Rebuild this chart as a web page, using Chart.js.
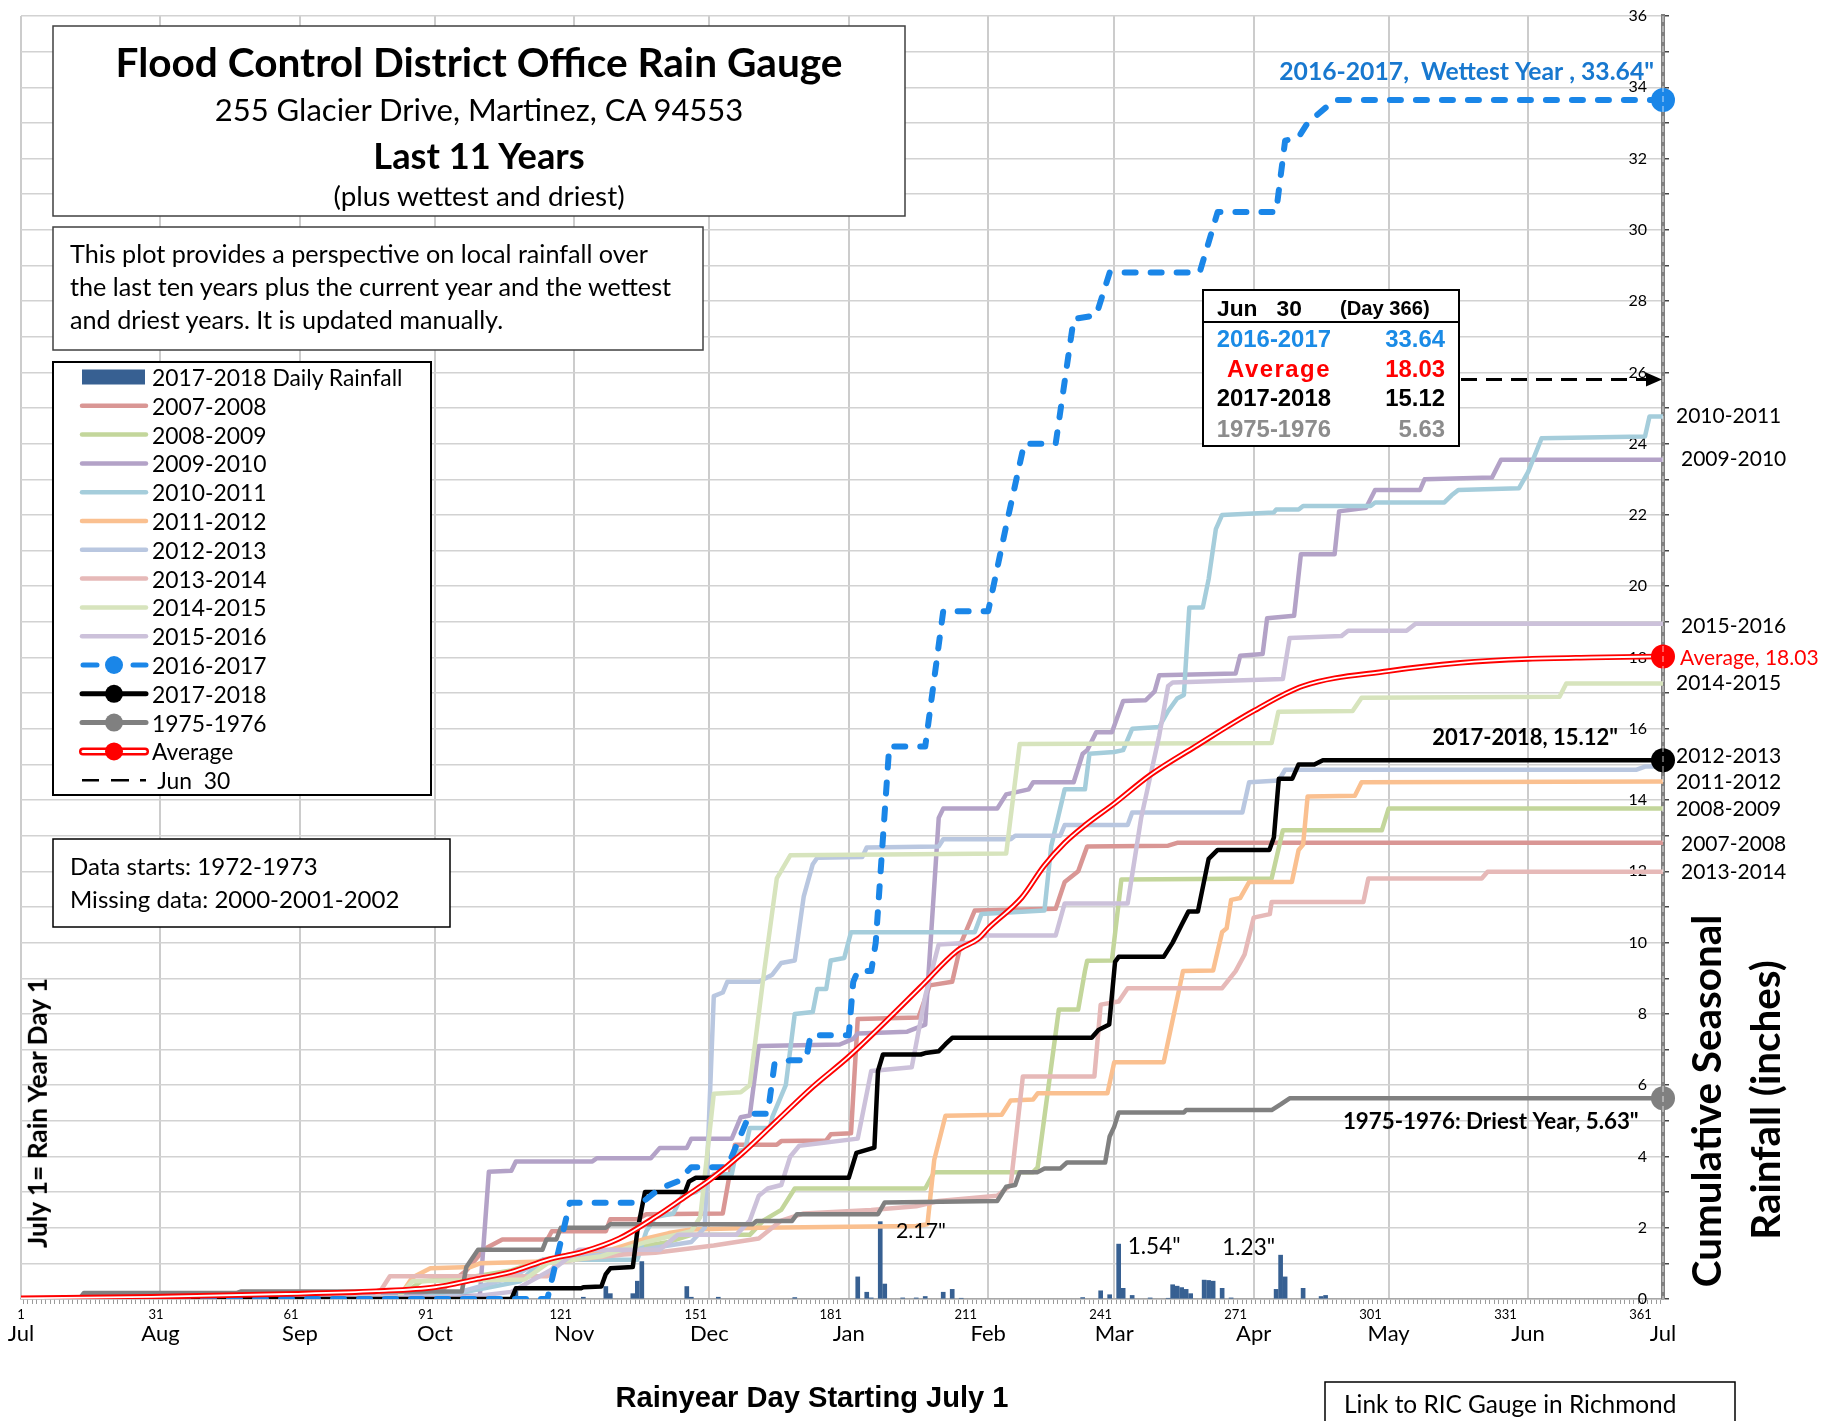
<!DOCTYPE html>
<html>
<head>
<meta charset="utf-8">
<title>Flood Control District Office Rain Gauge</title>
<script src="https://cdn.jsdelivr.net/npm/chart.js"></script>
<style>
  body { margin: 0; background: #fff; }
  #wrap { position: relative; width: 1838px; height: 1421px; overflow: hidden; font-family: Lato, sans-serif; color: #000; }
  #chart { position: absolute; left: 0; top: 0; }
  .t { position: absolute; white-space: nowrap; line-height: 1; font-size: 22px; transform: translate(0, -50%); }
  .c { transform: translate(-50%, -50%); }
  .r { transform: translate(-100%, -50%); }
  .rot { transform: translate(-50%, -50%) rotate(-90deg); }
  .b { font-weight: bold; }
  .a { font-family: 'Liberation Sans', Arial, sans-serif; font-weight: bold; }
  .n { font-family: 'Liberation Sans Narrow', 'Liberation Sans', Arial, sans-serif; }
</style>
</head>
<body>
<div id="wrap">
  <canvas id="chart" width="1838" height="1421"></canvas>

  <div class="t c b" style="left:479px;top:62px" data-w="727">Flood Control District Office Rain Gauge</div>
  <div class="t c" style="left:479px;top:110px" data-w="529">255 Glacier Drive, Martinez, CA 94553</div>
  <div class="t c b" style="left:479px;top:155px" data-w="211">Last 11 Years</div>
  <div class="t c" style="left:479px;top:196px" data-w="291">(plus wettest and driest)</div>

  <div class="t" style="left:70px;top:254px" data-g="desc" data-w="574">This plot provides a perspective on local rainfall over</div>
  <div class="t" style="left:70px;top:287px" data-g="desc" data-w="602">the last ten years plus the current year and the wettest</div>
  <div class="t" style="left:70px;top:320px" data-g="desc" data-w="437">and driest years. It is updated manually.</div>

  <div class="t" style="left:70px;top:866px" data-g="dat" data-w="248">Data starts: 1972-1973</div>
  <div class="t" style="left:70px;top:899px" data-g="dat" data-w="330">Missing data: 2000-2001-2002</div>

  <div class="t a" style="left:1217px;top:308px" data-w="85">Jun&nbsp;&nbsp;&nbsp;30</div>
  <div class="t a" style="left:1340px;top:308px" data-w="90">(Day 366)</div>

  <div class="t rot b" style="left:37px;top:1113px" data-w="270">July 1= Rain Year Day 1</div>
  <div class="t rot b" style="left:1706px;top:1101px" data-g="yt" data-w="372">Cumulative Seasonal</div>
  <div class="t rot b" style="left:1765px;top:1100px" data-g="yt" data-w="280">Rainfall (inches)</div>
  <div class="t c b n" style="left:812px;top:1398px" data-w="393">Rainyear Day Starting July 1</div>
  <div class="t" style="left:1344px;top:1404px" data-w="333">Link to RIC Gauge in Richmond</div>
</div>

<script>
// x axis: day of the rain year (July 1 = day 1)
const monthDays = [1, 32, 63, 93, 124, 154, 185, 216, 244, 275, 305, 336, 366];
const monthNames = ['Jul', 'Aug', 'Sep', 'Oct', 'Nov', 'Dec', 'Jan', 'Feb', 'Mar', 'Apr', 'May', 'Jun', 'Jul'];
const dayLabels = [1, 31, 61, 91, 121, 151, 181, 211, 241, 271, 301, 331, 361];
const allDays = Array.from({ length: 366 }, (_, i) => i + 1);
const yValues = Array.from({ length: 37 }, (_, i) => i);

// 2017-2018 daily rainfall (inches)
const rainDays = [111, 126, 131, 132, 137, 138, 139, 149, 150, 156, 173, 187, 189, 190, 192, 193, 197, 200, 202, 206, 208, 210,
  237, 241, 243, 245, 246, 248, 252, 256, 257, 258, 259, 260, 261, 264, 265, 266, 268, 270, 280, 281, 282, 286, 290, 291];
const rainInches = [0.3, 0.05, 0.35, 0.15, 0.15, 0.5, 1.05, 0.35, 0.05, 0.05, 0.04, 0.62, 0.19, 0.03, 2.17, 0.42, 0.03, 0.03, 0.07, 0.19, 0.27, 0.02,
  0.04, 0.23, 0.12, 1.54, 0.3, 0.1, 0.03, 0.02, 0.4, 0.36, 0.32, 0.27, 0.15, 0.53, 0.52, 0.5, 0.3, 0.03, 0.27, 1.23, 0.62, 0.3, 0.07, 0.1];

// cumulative seasonal rainfall, [day, inches]
const y0708 = [[1,0],[85,0.05],[95,0.3],[100,0.8],[104,1.4],[108,1.67],[118,1.67],[119,1.9],[131,1.9],[132,2.24],[138,2.24],[140,2.38],
  [157,2.4],[159.7,4.33],[169,4.33],[170,4.43],[180,4.45],[181,4.62],[185.5,4.65],[187,7.86],[200.5,7.9],[203,8.8],[208,8.9],[210,10.0],
  [213,10.9],[231,10.95],[233,11.7],[236,12.0],[238,12.7],[256,12.72],[258,12.8],[366,12.8]];
const y0809 = [[1,0],[85,0.05],[90,0.5],[100,0.6],[110,0.8],[117,1.1],[125,1.3],[135,1.4],[145,1.6],[150,1.8],[163,1.8],[166,2.2],[170,2.5],
  [173,3.1],[202,3.1],[204,3.56],[226,3.56],[227,3.7],[231.7,8.12],[236,8.12],[237.5,9.2],[238,9.49],[243.5,9.5],[245.6,11.77],[279,11.8],
  [281.5,13.15],[303.5,13.15],[305,13.76],[366,13.76]];
const y0910 = [[1,0],[103,0.1],[105,3.57],[110,3.6],[111,3.86],[128,3.86],[129,3.95],[141,3.95],[143,4.24],[149,4.24],[150,4.5],[159,4.5],
  [161,5.1],[163,5.15],[165,7.1],[183,7.14],[186,7.3],[187,7.45],[198,7.5],[202,7.7],[205,13.5],[206,13.76],[218,13.76],[220,14.16],
  [225,14.3],[226,14.5],[235,14.5],[237,15.3],[238,15.4],[240,15.9],[243.5,15.9],[246,16.78],[251,16.8],[253,17.05],[254,17.5],[271,17.55],
  [272,18.05],[277,18.1],[278,19.1],[284,19.17],[285.5,20.9],[293,20.9],[294,22.1],[300,22.2],[302,22.7],[312,22.7],[313,23.0],[328,23.05],
  [330,23.55],[366,23.55]];
const y1011 = [[1,0],[90,0.05],[100,0.2],[112,0.5],[117,1.1],[138,1.1],[140,1.9],[142,2.3],[146,2.4],[148,2.9],[151,3.0],[155,3.5],[159,3.5],
  [160,4.14],[162,4.2],[163,4.8],[167.5,4.8],[168,5.1],[171,6.0],[172,7.0],[173,8.0],[177,8.05],[178,8.7],[180,8.7],[181,9.5],[184,9.57],
  [185.5,10.29],[213,10.29],[214.5,10.8],[228.5,10.9],[230,12.7],[233,14.3],[237.5,14.3],[238.5,15.3],[244,15.35],[246,15.4],[248,16.0],
  [254,16.05],[256,16.5],[258,16.85],[259.5,16.95],[260.7,19.4],[263.7,19.4],[265,20.2],[266.6,21.6],[268,22.0],[279.5,22.07],[280,22.15],
  [285,22.15],[286,22.25],[301,22.25],[302,22.35],[317.4,22.35],[319,22.55],[320.5,22.7],[334,22.75],[336,23.2],[339,24.15],[362,24.2],
  [363,24.76],[366,24.76]];
const y1112 = [[1,0],[85,0.05],[88,0.6],[92,0.86],[101,0.9],[103,1.0],[117,1.05],[130,1.3],[135,1.5],[140,1.7],[145,1.85],[150,1.95],
  [165,2.0],[200,2.05],[202.5,2.1],[204,3.9],[206.5,5.14],[219,5.17],[221,5.57],[226,5.6],[227,5.77],[242.5,5.77],[244,6.64],[255,6.64],
  [259.3,9.2],[266,9.22],[268,10.3],[269,10.4],[270,11.2],[272,11.25],[274,11.7],[283.5,11.7],[285,12.6],[286,12.75],[287,14.1],
  [297.5,14.12],[299,14.5],[366,14.52]];
const y1213 = [[1,0],[95,0.05],[100,0.25],[110,0.6],[117,1.1],[135,1.3],[145,1.5],[150,1.6],[153,2.0],[155,8.5],[157,8.6],[158,8.9],
  [165,8.9],[168,9.1],[170,9.43],[173,9.5],[175,11.3],[177,12.2],[178,12.38],[188,12.4],[189,12.67],[205,12.7],[206,12.9],[221,12.9],
  [222,13.0],[232,13.0],[233,13.3],[247,13.3],[248,13.65],[272.5,13.65],[274,14.5],[280.6,14.55],[282,14.85],[360,14.85],[362,14.94],[366,14.94]];
const y1314 = [[1,0],[80,0.05],[83,0.64],[118,0.64],[120,1.0],[124,1.1],[135,1.25],[142,1.3],[155,1.5],[165,1.7],[170,2.2],[175,2.4],
  [190,2.5],[200,2.6],[205,2.75],[218,2.9],[221,3.2],[223.7,6.24],[239.6,6.24],[241,8.26],[245,8.35],[247,8.72],[268,8.72],[271,9.2],
  [273,9.67],[275,10.7],[278.6,10.8],[279,11.14],[299.4,11.14],[300.5,11.8],[325.7,11.8],[327,11.99],[366,11.99]];
const y1415 = [[1,0],[85,0.05],[88,0.5],[113,0.55],[118,1.0],[130,1.2],[140,1.6],[150,1.9],[152,2.3],[155,5.76],[161,5.8],[163,6.0],
  [166,9.0],[169,11.8],[172,12.45],[220,12.5],[223,15.57],[279,15.6],[280.5,16.48],[297,16.5],[299,16.87],[343,16.9],[344.5,17.27],[366,17.27]];
const y1516 = [[1,0],[100,0.05],[110,0.2],[120,0.9],[125,1.38],[143,1.38],[147,1.8],[160,1.8],[163,2.2],[165,2.9],[167,3.1],[170,3.2],
  [172,4.0],[174,4.3],[187,4.5],[190,6.4],[199,6.5],[202,8.5],[205,9.95],[213,10.0],[215,10.2],[231,10.2],[233,11.1],[247,11.1],[250,13.5],
  [254,15.8],[256,17.2],[257,17.3],[281.5,17.4],[283,18.55],[294.5,18.6],[296,18.75],[309,18.75],[311,18.95],[366,18.95]];
const y1617 = [[1,0],[118,0],[123,2.7],[139,2.7],[143,3.1],[147,3.3],[150,3.7],[158,3.7],[161,4.6],[163,5.2],[167,5.2],[168.5,6.6],
  [172,6.7],[175.5,6.7],[176.5,7.4],[185,7.4],[186,8.9],[187,9.2],[190,9.2],[191,10.0],[194,15.5],[202,15.5],[206,19.3],[216,19.3],
  [218,20.5],[220,21.7],[224,24.0],[231,24.0],[235,27.5],[240,27.6],[243,28.8],[263,28.8],[267,30.5],[280,30.5],[282,32.5],[285,32.6],
  [287,33.0],[293,33.64],[366,33.64]];
const y1718 = [[1,0],[110,0],[111,0.3],[125.5,0.3],[126,0.33],[130,0.35],[131,0.7],[132,0.86],[137,0.9],[138,1.9],[139.7,3.0],[148.6,3.0],
  [149.5,3.3],[151,3.4],[185,3.4],[186.7,4.1],[190.7,4.25],[191.5,6.4],[192.6,6.86],[201,6.86],[202,6.9],[205,6.95],[206.5,7.15],[208,7.33],
  [239,7.33],[240.5,7.55],[242.9,7.7],[244.2,9.46],[245,9.6],[255,9.6],[257,10.0],[259,10.5],[260.5,10.87],[262.6,10.87],[265,12.35],
  [267,12.6],[278.5,12.6],[279.5,12.95],[280.6,14.6],[283.6,14.6],[285,15.0],[288.5,15.0],[290.4,15.12],[366,15.12]];
const y7576 = [[1,0],[14,0],[15,0.17],[49,0.17],[50,0.21],[99,0.21],[100,0.9],[102.6,1.38],[116.9,1.38],[117.8,1.67],[120,1.67],[121,2.0],
  [131,2.0],[132,2.1],[163.7,2.1],[164.5,2.19],[172.4,2.19],[173.5,2.38],[191.5,2.38],[193,2.71],[218,2.75],[220,3.15],[222,3.2],[223,3.56],
  [227,3.56],[228.5,3.66],[232,3.66],[233.5,3.83],[242,3.83],[243,4.56],[244,4.83],[245,5.23],[259.5,5.23],[260,5.3],[279,5.3],[281,5.46],
  [283,5.63],[366,5.63]];
const avg = [[1,0.02],[30,0.06],[60,0.14],[80,0.22],[93,0.33],[102,0.55],[110,0.76],[118,1.1],[126,1.33],[134,1.7],[142,2.3],[149,2.9],
  [154,3.33],[161,4.05],[169,5.0],[177,5.95],[185,6.8],[193,7.76],[201,8.76],[209,9.76],[214,10.13],[216,10.4],[223.5,11.27],[228.4,12.15],
  [233,12.8],[237.6,13.3],[244,13.9],[252,14.7],[262,15.5],[275,16.5],[286,17.2],[305,17.62],[321,17.85],[336,17.96],[350,18.0],[366,18.03]];

const pastYears = [
  ['2007-2008', y0708, '#D99694'],
  ['2008-2009', y0809, '#C3D69B'],
  ['2009-2010', y0910, '#B3A2C7'],
  ['2010-2011', y1011, '#A5CDDB'],
  ['2011-2012', y1112, '#FAC090'],
  ['2012-2013', y1213, '#B9C7E0'],
  ['2013-2014', y1314, '#E6B9B8'],
  ['2014-2015', y1415, '#D7E4BD'],
  ['2015-2016', y1516, '#CCC1DA']
];
const BLUE = '#1A86E8', RED = '#FF0000', GRAY = '#808080', BAR = '#376092';

const pts = s => s.map(([x, y]) => ({ x, y }));
const last = s => s[s.length - 1][1];
const rainOn = d => rainInches[rainDays.indexOf(d)].toFixed(2) + '"';

const line = (color, width) => ({
  type: 'line', xAxisID: 'x', yAxisID: 'y', borderColor: color, borderWidth: width,
  pointRadius: 0, tension: 0, fill: false, borderJoinStyle: 'round', borderCapStyle: 'round'
});

// labels at the right end of each year
const endLabels = [
  ['2010-2011', last(y1011), 13, 0],
  ['2009-2010', last(y0910), 18, 0],
  ['2015-2016', last(y1516), 18, 3],
  ['Average, ' + last(avg).toFixed(2), last(avg), 17, 2, RED],
  ['2014-2015', last(y1415), 13, 0],
  ['2012-2013', last(y1213), 13, -10],
  ['2011-2012', last(y1112), 13, 1],
  ['2008-2009', last(y0809), 13, 1],
  ['2007-2008', last(y0708), 18, 1],
  ['2013-2014', last(y1314), 18, 1]
];
const notes = [
  ['2016-2017,  Wettest Year , ' + last(y1617).toFixed(2) + '"', 364, 34.43, 375, '#1878CF'],
  ['2017-2018, ' + last(y1718).toFixed(2) + '"', 356, 15.74, 186, '#000'],
  ['1975-1976: Driest Year, ' + last(y7576).toFixed(2) + '"', 360.6, 4.97, 296, '#000']
];
const barNotes = [[rainOn(192), 195.5, 1.91, 50], [rainOn(245), 247, 1.48, 53], [rainOn(281), 268, 1.44, 53]];

// boxes drawn over the plot: x, y, w, h, line width, colour
const boxes = [
  [53, 26, 852, 190, 1.5, '#404040'],
  [53, 227, 650, 123, 1.5, '#404040'],
  [53, 362, 378, 433, 2, '#000'],
  [53, 839, 397, 88, 1.5, '#000'],
  [1203, 290, 256, 156, 2, '#000'],
  [1325, 1382, 410, 60, 1.5, '#000']
];
const legendY = i => 377 + 28.8 * i;

function fitFont(ctx, text, width, weight) {
  ctx.font = weight + ' 100px Lato';
  ctx.font = weight + ' ' + (100 * width / ctx.measureText(text).width) + 'px Lato';
}

const overlay = {
  id: 'overlay',
  afterDraw(chart) {
    const { ctx, chartArea: area, scales: { x, y } } = chart;
    ctx.save();

    // Jun 30 line over the right axis
    ctx.strokeStyle = 'rgba(255,255,255,0.75)';
    ctx.lineWidth = 1;
    ctx.setLineDash([6, 4]);
    ctx.beginPath(); ctx.moveTo(area.right, area.top); ctx.lineTo(area.right, area.bottom); ctx.stroke();
    ctx.setLineDash([]);

    boxes.forEach(([bx, by, bw, bh, lw, c]) => {
      ctx.fillStyle = '#fff'; ctx.fillRect(bx, by, bw, bh);
      ctx.strokeStyle = c; ctx.lineWidth = lw; ctx.strokeRect(bx, by, bw, bh);
    });
    ctx.strokeStyle = '#000'; ctx.lineWidth = 2;
    ctx.beginPath(); ctx.moveTo(1203, 322); ctx.lineTo(1459, 322); ctx.stroke();

    // arrow from the table to the axis
    const ay = y.getPixelForValue(25.8);
    ctx.lineWidth = 3; ctx.setLineDash([16, 9]);
    ctx.beginPath(); ctx.moveTo(1461, ay); ctx.lineTo(area.right - 15, ay); ctx.stroke();
    ctx.setLineDash([]);
    ctx.fillStyle = '#000';
    ctx.beginPath(); ctx.moveTo(area.right - 1, ay); ctx.lineTo(area.right - 17, ay - 7); ctx.lineTo(area.right - 17, ay + 7); ctx.fill();

    // legend swatches
    ctx.lineCap = 'round';
    ctx.fillStyle = BAR; ctx.fillRect(82, legendY(0) - 7.5, 63, 15);
    pastYears.forEach(([, , c], i) => {
      ctx.strokeStyle = c; ctx.lineWidth = 4.5;
      ctx.beginPath(); ctx.moveTo(82, legendY(i + 1)); ctx.lineTo(146, legendY(i + 1)); ctx.stroke();
    });
    const dot = (cy, c) => { ctx.fillStyle = c; ctx.beginPath(); ctx.arc(114, cy, 9, 0, Math.PI * 2); ctx.fill(); };
    let ly = legendY(10);
    ctx.strokeStyle = BLUE; ctx.lineWidth = 5;
    ctx.beginPath(); ctx.moveTo(83, ly); ctx.lineTo(97, ly); ctx.moveTo(133, ly); ctx.lineTo(146, ly); ctx.stroke();
    dot(ly, BLUE);
    [[11, '#000'], [12, GRAY]].forEach(([i, c]) => {
      ctx.strokeStyle = c; ctx.lineWidth = 5;
      ctx.beginPath(); ctx.moveTo(82, legendY(i)); ctx.lineTo(146, legendY(i)); ctx.stroke();
      dot(legendY(i), c);
    });
    ly = legendY(13);
    ctx.strokeStyle = RED; ctx.lineWidth = 8;
    ctx.beginPath(); ctx.moveTo(83, ly); ctx.lineTo(145, ly); ctx.stroke();
    ctx.strokeStyle = '#fff'; ctx.lineWidth = 3;
    ctx.beginPath(); ctx.moveTo(83, ly); ctx.lineTo(145, ly); ctx.stroke();
    dot(ly, RED);
    ly = legendY(14);
    ctx.lineCap = 'butt'; ctx.strokeStyle = '#000'; ctx.lineWidth = 2.5;
    ctx.beginPath(); ctx.moveTo(82, ly); ctx.lineTo(99, ly); ctx.moveTo(111, ly); ctx.lineTo(129, ly); ctx.moveTo(140, ly); ctx.lineTo(146, ly); ctx.stroke();

    // text next to the data
    ctx.textBaseline = 'middle';
    ctx.textAlign = 'left';
    ctx.font = '21px Lato';
    endLabels.forEach(([text, v, dx, dy, c]) => {
      ctx.fillStyle = c || '#000';
      ctx.fillText(text, area.right + dx, y.getPixelForValue(v) + dy);
    });
    ctx.textAlign = 'right';
    notes.forEach(([text, d, v, w, c]) => {
      fitFont(ctx, text, w, 'bold');
      ctx.fillStyle = c;
      ctx.fillText(text, x.getPixelForValue(d), y.getPixelForValue(v));
    });
    ctx.textAlign = 'left';
    ctx.fillStyle = '#000';
    barNotes.forEach(([text, d, v, w]) => {
      fitFont(ctx, text, w, 'normal');
      ctx.fillText(text, x.getPixelForValue(d), y.getPixelForValue(v));
    });
    ctx.restore();
  }
};

const datasets = [
  {
    type: 'bar', label: '2017-2018 Daily Rainfall', xAxisID: 'x', yAxisID: 'y',
    data: rainDays.map((d, i) => ({ x: d, y: rainInches[i] })),
    backgroundColor: BAR, barThickness: 4, order: 30
  },
  ...pastYears.map(([label, s, c], i) => ({ ...line(c, 4.5), label, data: pts(s), order: 20 - i })),
  { ...line('#000', 4.5), label: '2017-2018', data: pts(y1718), order: 6 },
  { ...line(GRAY, 4.5), label: '1975-1976', data: pts(y7576), order: 5 },
  { ...line(BLUE, 6), label: '2016-2017', data: pts(y1617), borderDash: [11, 15], order: 4 },
  { ...line(RED, 5.5), label: 'Average', data: pts(avg), cubicInterpolationMode: 'monotone', order: 2 },
  { ...line('#fff', 1.8), label: 'Average core', data: pts(avg), cubicInterpolationMode: 'monotone', order: 1 },
  {
    ...line('#000', 0), label: 'Jun 30', showLine: false, clip: false, order: 0,
    data: pts([y1617, avg, y1718, y7576].map(s => s[s.length - 1])),
    pointRadius: 12, pointBorderWidth: 0, pointBackgroundColor: [BLUE, RED, '#000', GRAY]
  }
];

new Chart(document.getElementById('chart'), {
  type: 'line',
  data: { datasets },
  plugins: [overlay],
  options: {
    responsive: false,
    animation: false,
    events: [],
    layout: { padding: { left: 21, top: 16, right: 167, bottom: 70 } },
    plugins: { legend: { display: false }, tooltip: { enabled: false } },
    scales: {
      x: {
        type: 'linear', min: 1, max: 366, offset: false, position: 'bottom',
        afterBuildTicks: s => { s.ticks = allDays.map(v => ({ value: v })); },
        afterFit: s => { s.height = 22; },
        ticks: {
          autoSkip: false, maxRotation: 0, padding: 3, color: '#000',
          font: { family: 'Lato', size: 13 },
          callback: v => dayLabels.includes(v) ? v : ''
        },
        grid: { drawOnChartArea: false, tickLength: 5, tickColor: '#9a9a9a', lineWidth: 1 },
        border: { color: '#a8a8a8', width: 1.5 }
      },
      xm: {
        type: 'linear', axis: 'x', min: 1, max: 366, offset: false, position: 'bottom',
        afterBuildTicks: s => { s.ticks = monthDays.map(v => ({ value: v })); },
        afterFit: s => { s.height = 30; },
        ticks: {
          autoSkip: false, maxRotation: 0, padding: 0, color: '#000',
          font: { family: 'Lato', size: 22 },
          callback: (v, i) => monthNames[i]
        },
        grid: { drawTicks: false, color: '#cccccc', lineWidth: 2 },
        border: { display: false }
      },
      y: {
        type: 'linear', position: 'right', min: 0, max: 36,
        afterBuildTicks: s => { s.ticks = yValues.map(v => ({ value: v })); },
        afterFit: s => { s.width = 8; },
        ticks: {
          mirror: true, padding: -16, color: '#000',
          font: { family: 'Lato', size: 16 },
          callback: v => v % 2 ? '' : v
        },
        grid: { color: '#d2d2d2', lineWidth: 1.5, tickLength: 6, tickColor: '#444' },
        border: { color: GRAY, width: 4 }
      }
    }
  }
});

// legend and table texts
const wrap = document.getElementById('wrap');
const addText = (text, cls, style, w, g) => {
  const el = document.createElement('div');
  el.className = 't ' + cls;
  el.textContent = text;
  el.style.cssText = style;
  if (w) el.dataset.w = w;
  if (g) el.dataset.g = g;
  wrap.appendChild(el);
};
const legendLabels = ['2017-2018 Daily Rainfall', ...pastYears.map(p => p[0]), '2016-2017', '2017-2018', '1975-1976', 'Average', '\u00a0Jun\u00a0\u00a030'];
const legendWidths = { 0: 252, 1: 110, 13: 84 };
legendLabels.forEach((t, i) => addText(t, '', 'left:152px;top:' + legendY(i) + 'px', legendWidths[i], 'leg'));

const tableRows = [['2016-2017', y1617, '#1A8BE6', 114], ['Average', avg, RED], ['2017-2018', y1718, '#000'], ['1975-1976', y7576, '#8C8C8C', 114]];
const tableY = [339, 369, 398, 429];
tableRows.forEach(([name, s, c, w], i) => {
  const extra = name === 'Average' ? 'letter-spacing:1.5px;' : '';
  addText(name, 'a r', extra + 'color:' + c + ';left:1331px;top:' + tableY[i] + 'px', w, 'tab');
  addText(last(s).toFixed(2), 'a r', 'color:' + c + ';left:1445px;top:' + tableY[i] + 'px', i === 0 ? 60 : null, 'tab');
});

// scale the fonts so each text takes the width it has in the original
const groups = {};
document.querySelectorAll('.t[data-w], .t[data-g]').forEach((el, i) => {
  const key = el.dataset.g || 'one' + i;
  (groups[key] = groups[key] || []).push(el);
});
Object.values(groups).forEach(els => {
  let want = 0, got = 0;
  els.forEach(el => { if (el.dataset.w) { want += +el.dataset.w; got += el.offsetWidth; } });
  const k = want / got;
  els.forEach(el => { el.style.fontSize = parseFloat(getComputedStyle(el).fontSize) * k + 'px'; });
});
</script>
</body>
</html>
